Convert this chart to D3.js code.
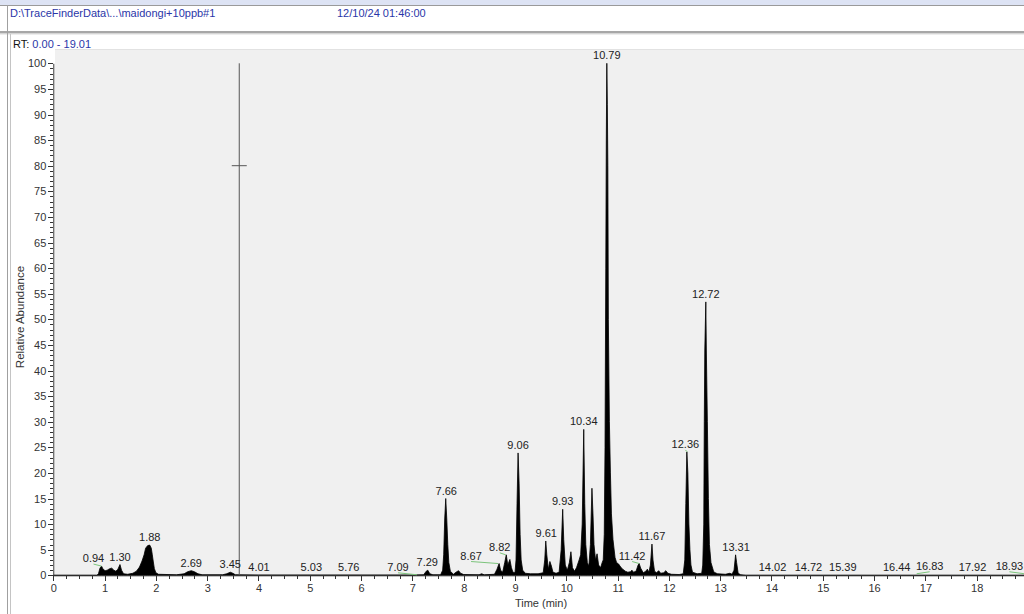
<!DOCTYPE html>
<html>
<head>
<meta charset="utf-8">
<script src="https://cdn.jsdelivr.net/npm/d3@7"></script>
<style>
  body { margin: 0; background: #fff; }
  svg { display: block; font-family: "Liberation Sans", Arial, sans-serif; }
  .tick text { font-size: 11px; fill: #333; }
  .tick line, .domain { stroke: #333; }
  .peak-label { font-size: 11px; fill: #222; text-anchor: middle; }
</style>
</head>
<body>
<svg id="chart" width="1024" height="614"></svg>
<script>
// Header text
const filePath = "D:\\TraceFinderData\\...\\maidongi+10ppb#1";
const runDate = "12/10/24 01:46:00";
const rtRange = "0.00 - 19.01";

// Axis ticks
const xMajorTicks = [0, 1, 2, 3, 4, 5, 6, 7, 8, 9, 10, 11, 12, 13, 14, 15, 16, 17, 18];
const yMajorTicks = [0, 5, 10, 15, 20, 25, 30, 35, 40, 45, 50, 55, 60, 65, 70, 75, 80, 85, 90, 95, 100];

// Chromatogram trace: [time (min), relative abundance]
const trace = [
  [0, 0], [0.85, 0], [0.88, 0.3], [0.91, 1.4], [0.94, 1.8], [0.97, 1.2], [1.01, 0.9], [1.05, 1.0],
  [1.10, 1.3], [1.14, 1.4], [1.18, 1.0], [1.22, 0.8], [1.26, 1.2], [1.30, 2.1], [1.33, 1.0], [1.37, 0.3],
  [1.45, 0.2], [1.55, 0.4], [1.62, 0.8], [1.68, 1.6], [1.73, 2.8], [1.77, 4.0], [1.80, 5.3], [1.84, 5.8],
  [1.88, 5.9], [1.91, 5.3], [1.93, 4.0], [1.95, 2.6], [1.97, 1.3], [2.00, 0.5], [2.05, 0.2], [2.40, 0.1],
  [2.55, 0.3], [2.62, 0.7], [2.69, 0.9], [2.75, 0.7], [2.82, 0.3], [2.90, 0.1], [3.30, 0.1], [3.38, 0.3],
  [3.45, 0.6], [3.50, 0.4], [3.55, 0.1], [4.00, 0.05], [7.00, 0.05], [7.22, 0.1], [7.27, 0.8], [7.30, 1.0],
  [7.34, 0.3], [7.40, 0.1], [7.55, 0.1], [7.59, 1.0], [7.61, 4.0], [7.63, 11.0], [7.65, 15.0], [7.67, 11.0],
  [7.69, 6.0], [7.71, 2.5], [7.74, 0.8], [7.80, 0.2], [7.85, 0.6], [7.90, 0.9], [7.94, 0.4], [8.00, 0.15],
  [8.30, 0.1], [8.35, 0.3], [8.40, 0.1], [8.60, 0.2], [8.65, 1.2], [8.69, 2.3], [8.72, 1.0], [8.76, 0.6],
  [8.80, 2.5], [8.83, 4.0], [8.86, 2.0], [8.90, 3.1], [8.93, 1.5], [8.96, 0.6], [9.00, 0.5], [9.02, 3.0],
  [9.04, 14.0], [9.06, 23.9], [9.08, 18.0], [9.10, 8.0], [9.12, 3.0], [9.15, 1.0], [9.20, 0.4], [9.30, 0.3],
  [9.45, 0.3], [9.55, 0.5], [9.58, 3.0], [9.60, 6.7], [9.62, 4.0], [9.65, 1.2], [9.68, 2.7], [9.71, 1.8],
  [9.74, 0.6], [9.80, 0.4], [9.86, 0.6], [9.90, 5.0], [9.93, 12.9], [9.95, 7.0], [9.98, 2.0], [10.02, 1.0],
  [10.06, 2.5], [10.09, 4.6], [10.12, 1.5], [10.16, 0.8], [10.20, 1.5], [10.25, 3.0], [10.28, 4.0], [10.31, 10.0],
  [10.34, 28.5], [10.36, 14.0], [10.38, 6.0], [10.41, 2.5], [10.44, 1.8], [10.47, 6.0], [10.50, 17.0], [10.52, 12.0],
  [10.54, 6.0], [10.57, 3.0], [10.60, 4.2], [10.63, 2.0], [10.67, 1.5], [10.70, 2.5], [10.72, 3.0], [10.74, 8.0],
  [10.755, 25.0], [10.77, 60.0], [10.78, 85.0], [10.79, 100], [10.80, 92.0], [10.81, 80.0], [10.82, 50.0], [10.84, 30.0],
  [10.86, 20.0], [10.88, 12.0], [10.91, 7.0], [10.95, 3.5], [10.98, 2.5], [11.02, 2.2], [11.06, 1.6], [11.10, 1.2],
  [11.15, 0.8], [11.20, 0.6], [11.25, 0.7], [11.28, 1.0], [11.31, 0.6], [11.36, 0.8], [11.40, 2.0], [11.42, 2.3],
  [11.45, 1.4], [11.50, 0.5], [11.55, 0.8], [11.58, 1.2], [11.61, 0.6], [11.64, 2.0], [11.67, 6.1], [11.69, 3.0],
  [11.72, 0.8], [11.76, 0.5], [11.80, 0.9], [11.84, 0.4], [11.90, 0.5], [11.94, 0.9], [11.98, 0.4], [12.05, 0.2],
  [12.20, 0.15], [12.28, 0.3], [12.31, 3.0], [12.33, 14.0], [12.35, 24.1], [12.37, 20.0], [12.39, 10.0], [12.41, 5.0],
  [12.43, 2.0], [12.46, 0.6], [12.55, 0.3], [12.64, 0.4], [12.66, 2.0], [12.68, 10.0], [12.69, 30.0], [12.70, 44.0],
  [12.72, 53.4], [12.73, 44.0], [12.75, 30.0], [12.77, 15.0], [12.79, 6.0], [12.82, 2.5], [12.87, 0.8], [12.90, 0.5],
  [12.95, 0.3], [13.10, 0.2], [13.19, 0.4], [13.23, 0.2], [13.27, 1.0], [13.30, 4.0], [13.32, 2.5], [13.35, 0.4],
  [13.40, 0.1], [13.50, 0], [19.01, 0]
];

// Peak labels: retention time and apex abundance
const peakRT = [0.94, 1.30, 1.88, 2.69, 3.45, 4.01, 5.03, 5.76, 7.09, 7.29, 7.66, 8.67, 8.82, 9.06, 9.61,
  9.93, 10.34, 10.79, 11.42, 11.67, 12.36, 12.72, 13.31, 14.02, 14.72, 15.39, 16.44, 16.83, 17.92, 18.93];
const peakApex = [1.8, 2.1, 5.9, 0.9, 0.6, 0.1, 0.1, 0.1, 0.1, 1.0, 15.0, 2.3, 4.0, 23.9, 6.7,
  12.9, 28.5, 100, 2.3, 6.1, 24.1, 53.4, 4.0, 0.1, 0.1, 0.1, 0.1, 0.3, 0.1, 0.3];

// Cursor marker
const cursorRT = 3.625;
const cursorMark = 80;

// label nudges (px) where the instrument moved labels aside
const labelShift = { "0.94": -8, "7.09": -19, "8.67": -27, "8.82": -6, "11.42": -7, "12.36": -2, "16.83": 13, "18.93": -15 };

const svg = d3.select("#chart");

// window frame
svg.append("rect").attr("x", 0).attr("y", 0).attr("width", 1024).attr("height", 5).attr("fill", "#dde3f4");
svg.append("line").attr("x1", 0).attr("x2", 1024).attr("y1", 5.5).attr("y2", 5.5).attr("stroke", "#9a9a9a");
svg.append("line").attr("x1", 0).attr("x2", 1024).attr("y1", 32).attr("y2", 32).attr("stroke", "#8a8a8a").attr("stroke-width", 1.5);
svg.append("line").attr("x1", 0).attr("x2", 1024).attr("y1", 33.8).attr("y2", 33.8).attr("stroke", "#c4c4c4");
svg.append("line").attr("x1", 7.5).attr("x2", 7.5).attr("y1", 5).attr("y2", 614).attr("stroke", "#a0a0a0");
svg.append("line").attr("x1", 10.5).attr("x2", 10.5).attr("y1", 34).attr("y2", 614).attr("stroke", "#c4c4c4");

// header texts
svg.append("text").attr("x", 10).attr("y", 17).attr("font-size", 11).attr("fill", "#2a36a8").text(filePath);
svg.append("text").attr("x", 337).attr("y", 17).attr("font-size", 11).attr("fill", "#2a36a8").text(runDate);
const rt = svg.append("text").attr("x", 13).attr("y", 47.5).attr("font-size", 11);
rt.append("tspan").attr("fill", "#111").text("RT: ");
rt.append("tspan").attr("fill", "#2a36a8").text(rtRange);

// scales
const x = d3.scaleLinear().domain([0, 19.01]).range([53.3, 1028.5]);
const y = d3.scaleLinear().domain([0, 100]).range([575.3, 63.3]);

// plot panel
svg.append("rect").attr("x", 55).attr("y", 49).attr("width", 969).attr("height", 526).attr("fill", "#f0f0f0");
svg.append("line").attr("x1", 55).attr("x2", 1024).attr("y1", 49.5).attr("y2", 49.5).attr("stroke", "#e2e2e2");

// trace
const area = d3.area()
  .x(d => x(d[0]))
  .y0(y(0))
  .y1(d => y(d[1]));
svg.append("path")
  .datum(trace)
  .attr("d", area)
  .attr("fill", "#000")
  .attr("stroke", "#000")
  .attr("stroke-width", 0.8)
  .attr("stroke-linejoin", "round");

// cursor line
svg.append("line")
  .attr("x1", x(cursorRT)).attr("x2", x(cursorRT))
  .attr("y1", y(100)).attr("y2", y(0))
  .attr("stroke", "#555").attr("stroke-width", 1);
svg.append("line")
  .attr("x1", x(cursorRT) - 7.5).attr("x2", x(cursorRT) + 7.5)
  .attr("y1", y(cursorMark)).attr("y2", y(cursorMark))
  .attr("stroke", "#555").attr("stroke-width", 1);

// y axis
const yMinor = d3.range(0, 101, 1).filter(v => v % 5 !== 0);
svg.append("g")
  .attr("transform", "translate(53.3,0)")
  .call(d3.axisLeft(y).tickValues(yMinor).tickSize(3).tickFormat(""))
  .call(g => g.select(".domain").remove());
svg.append("g")
  .attr("transform", "translate(53.3,0)")
  .call(d3.axisLeft(y).tickValues(yMajorTicks).tickSize(5).tickSizeOuter(0).tickPadding(2));

// x axis
const xMinor = d3.range(0, 19.01, 0.25).filter(v => v % 1 !== 0);
svg.append("g")
  .attr("transform", "translate(0,575.3)")
  .call(d3.axisBottom(x).tickValues(xMinor).tickSize(4).tickFormat(""))
  .call(g => g.select(".domain").remove());
svg.append("g")
  .attr("transform", "translate(0,575.3)")
  .call(d3.axisBottom(x).tickValues(xMajorTicks).tickSize(6).tickSizeOuter(0).tickPadding(3).tickFormat(d3.format("d")));

svg.selectAll(".tick line").attr("shape-rendering", "crispEdges");

// axis titles
svg.append("text")
  .attr("x", 541).attr("y", 607)
  .attr("text-anchor", "middle").attr("font-size", 11).attr("fill", "#333")
  .text("Time (min)");
svg.append("text")
  .attr("transform", "translate(24,317) rotate(-90)")
  .attr("text-anchor", "middle").attr("font-size", 11.5).attr("fill", "#333")
  .text("Relative Abundance");

// peak labels
peakRT.forEach((t, i) => {
  const key = t.toFixed(2);
  const dx = labelShift[key] || 0;
  const px = x(t), py = y(peakApex[i]);
  if (dx !== 0) {
    svg.append("line")
      .attr("x1", px + dx).attr("y1", py - 2)
      .attr("x2", px).attr("y2", py)
      .attr("stroke", "#7cc47c").attr("stroke-width", 1);
  }
  svg.append("text")
    .attr("class", "peak-label")
    .attr("x", px + dx)
    .attr("y", py - 4)
    .text(key);
});
</script>
</body>
</html>
